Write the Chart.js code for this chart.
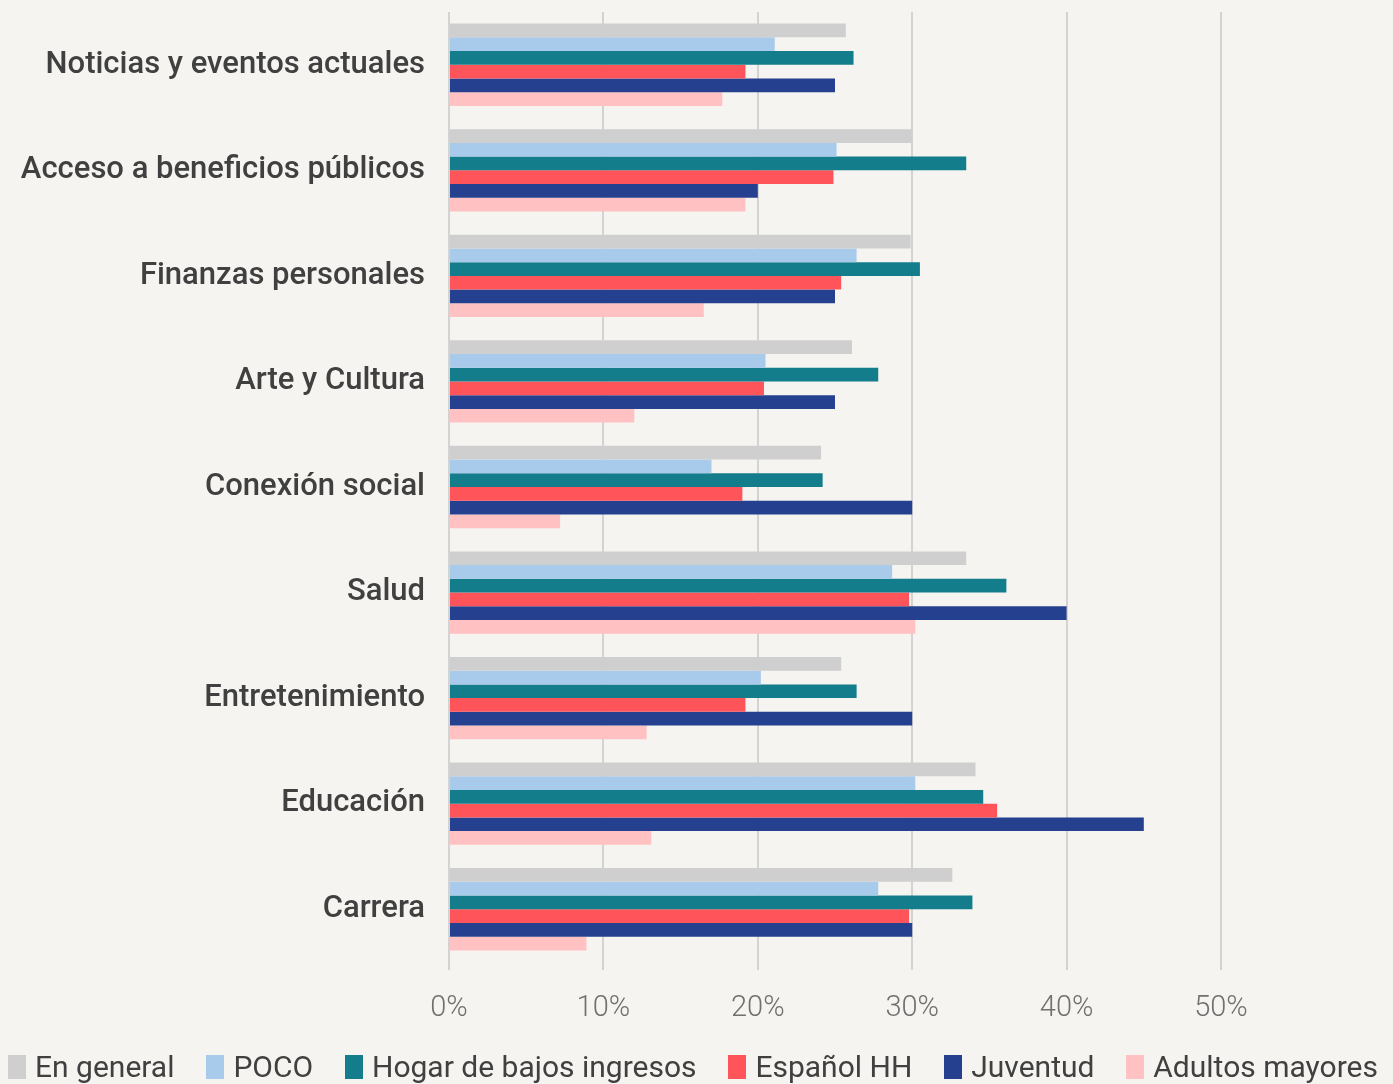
<!DOCTYPE html>
<html>
<head>
<meta charset="utf-8">
<script src="https://cdn.jsdelivr.net/npm/chart.js@4/dist/chart.umd.min.js"></script>
<style>
  html, body { margin: 0; padding: 0; background: #f5f4f0; }
  #wrap { position: relative; width: 1393px; height: 1084px; overflow: hidden; }
  #c { position: absolute; left: 0; top: 0; }
  #legend {
    position: absolute; left: 8px; width: 1370px; top: 1049px; height: 36px;
    display: flex; justify-content: space-between; align-items: center;
    font-family: Roboto, sans-serif; font-size: 30px; color: #404040; line-height: 36px;
  }
  .item { display: flex; align-items: center; white-space: nowrap; }
  .box { width: 18px; height: 24px; margin-right: 9px; flex: none; }
</style>
</head>
<body>
<div id="wrap">
  <canvas id="c" width="1393" height="1084"></canvas>
  <div id="legend"></div>
</div>
<script>
const categories = ["Noticias y eventos actuales", "Acceso a beneficios públicos", "Finanzas personales", "Arte y Cultura", "Conexión social", "Salud", "Entretenimiento", "Educación", "Carrera"];
const seriesNames = ["En general", "POCO", "Hogar de bajos ingresos", "Español HH", "Juventud", "Adultos mayores"];
const enGeneral = [25.7, 30.0, 29.9, 26.1, 24.1, 33.5, 25.4, 34.1, 32.6];
const poco = [21.1, 25.1, 26.4, 20.5, 17.0, 28.7, 20.2, 30.2, 27.8];
const hogar = [26.2, 33.5, 30.5, 27.8, 24.2, 36.1, 26.4, 34.6, 33.9];
const espanol = [19.2, 24.9, 25.4, 20.4, 19.0, 29.8, 19.2, 35.5, 29.8];
const juventud = [25.0, 20.0, 25.0, 25.0, 30.0, 40.0, 30.0, 45.0, 30.0];
const adultos = [17.7, 19.2, 16.5, 12.0, 7.2, 30.2, 12.8, 13.1, 8.9];
const tickValues = [0, 10, 20, 30, 40, 50];
const colors = ["#d0cfcf", "#a8cbeb", "#137d8b", "#ff555a", "#25408f", "#ffc1c1"];

const allSeries = [enGeneral, poco, hogar, espanol, juventud, adultos];

// HTML legend built from the series names and colours
const legendEl = document.getElementById('legend');
seriesNames.forEach((name, i) => {
  const item = document.createElement('div');
  item.className = 'item';
  const box = document.createElement('span');
  box.className = 'box';
  box.style.background = colors[i];
  const txt = document.createElement('span');
  txt.textContent = name;
  item.appendChild(box);
  item.appendChild(txt);
  legendEl.appendChild(item);
});

new Chart(document.getElementById('c'), {
  type: 'bar',
  data: {
    labels: categories,
    datasets: allSeries.map((d, i) => ({
      label: seriesNames[i],
      data: d,
      backgroundColor: colors[i],
      borderWidth: 0,
      barPercentage: 1.0,
      categoryPercentage: 0.78
    }))
  },
  options: {
    indexAxis: 'y',
    responsive: false,
    animation: false,
    devicePixelRatio: 1,
    layout: { padding: { top: 12, right: 172, left: 0, bottom: 62 } },
    plugins: {
      tooltip: { enabled: false },
      legend: { display: false }
    },
    scales: {
      x: {
        min: 0,
        max: 50,
        afterBuildTicks: (axis) => { axis.ticks = tickValues.map(v => ({ value: v })); },
        afterFit: (axis) => { axis.height = 60; },
        grid: { color: '#d3d3d3', lineWidth: 2, drawTicks: true, tickLength: 8 },
        border: { display: false },
        ticks: {
          padding: 21,
          color: '#707070',
          font: { family: 'Roboto', size: 29, weight: '300' },
          callback: (v) => v + '%'
        }
      },
      y: {
        afterFit: (axis) => { axis.width = 449; axis.paddingTop = 0; axis.paddingBottom = 0; },
        grid: { display: false },
        border: { display: false },
        ticks: {
          padding: 16,
          color: '#404040',
          font: { family: 'Roboto', size: 31, weight: '500' }
        }
      }
    }
  },
  plugins: [{
    id: 'bg',
    beforeDraw(chart) {
      const ctx = chart.ctx;
      ctx.save();
      ctx.fillStyle = '#f5f4f0';
      ctx.fillRect(0, 0, chart.width, chart.height);
      ctx.restore();
    }
  }]
});
</script>
</body>
</html>
